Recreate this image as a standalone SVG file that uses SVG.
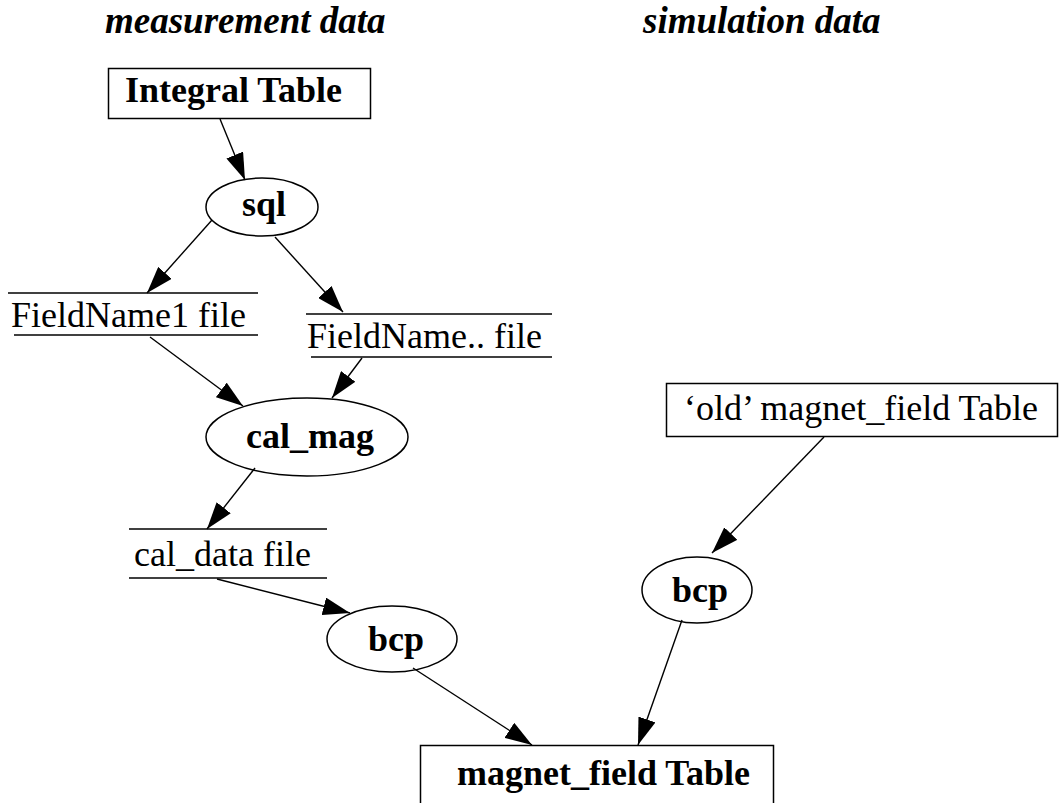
<svg xmlns="http://www.w3.org/2000/svg" width="1059" height="803" viewBox="0 0 1059 803">
  <style>
    .bg { fill: #ffffff; }
    .shape { fill: none; stroke: #000000; stroke-width: 1.5; }
    .edge { fill: none; stroke: #000000; stroke-width: 1.4; }
    .lbl { font-family: "Liberation Serif", "Times New Roman", serif; font-size: 36px; fill: #000000; }
    .bold { font-weight: bold; }
    .title { font-family: "Liberation Serif", "Times New Roman", serif; font-size: 37px; font-weight: bold; font-style: italic; fill: #000000; }
  </style>
  <defs>
    <marker id="arrow" markerUnits="userSpaceOnUse" markerWidth="27" markerHeight="18" refX="27" refY="9" orient="auto">
      <path d="M0,0 L27,9 L0,18 Z" fill="#000000"/>
    </marker>
  </defs>

  <rect class="bg" x="0" y="0" width="1059" height="803"/>

  <!-- column headings -->
  <g id="headings">
    <text class="title" x="105" y="33">measurement data</text>
    <text class="title" x="643" y="33">simulation data</text>
  </g>

  <!-- connectors -->
  <g id="edges">
    <line class="edge" x1="220" y1="119" x2="245" y2="180" marker-end="url(#arrow)"/>
    <line class="edge" x1="212" y1="220" x2="147" y2="293" marker-end="url(#arrow)"/>
    <line class="edge" x1="275" y1="237" x2="343" y2="312" marker-end="url(#arrow)"/>
    <line class="edge" x1="150" y1="337" x2="243" y2="406" marker-end="url(#arrow)"/>
    <line class="edge" x1="362" y1="358" x2="332" y2="398" marker-end="url(#arrow)"/>
    <line class="edge" x1="255" y1="468" x2="207" y2="529" marker-end="url(#arrow)"/>
    <line class="edge" x1="217" y1="579" x2="350" y2="613" marker-end="url(#arrow)"/>
    <line class="edge" x1="413" y1="668" x2="532" y2="745" marker-end="url(#arrow)"/>
    <line class="edge" x1="824" y1="437" x2="712" y2="553" marker-end="url(#arrow)"/>
    <line class="edge" x1="682" y1="620" x2="638" y2="745" marker-end="url(#arrow)"/>
  </g>

  <!-- nodes -->
  <g id="integral_table">
    <rect class="shape" x="108.5" y="68.5" width="262" height="50"/>
    <text class="lbl bold" x="125" y="102">Integral Table</text>
  </g>

  <g id="sql">
    <ellipse class="shape" cx="262" cy="207" rx="56" ry="29"/>
    <text class="lbl bold" x="264" y="216" text-anchor="middle">sql</text>
  </g>

  <g id="fieldname1_file">
    <line class="shape" x1="8" y1="293" x2="258" y2="293"/>
    <line class="shape" x1="14" y1="335" x2="258" y2="335"/>
    <text class="lbl" x="11" y="327">FieldName1 file</text>
  </g>

  <g id="fieldnameN_file">
    <line class="shape" x1="306" y1="314" x2="552" y2="314"/>
    <line class="shape" x1="311" y1="357" x2="552" y2="357"/>
    <text class="lbl" x="307" y="348">FieldName.. file</text>
  </g>

  <g id="cal_mag">
    <ellipse class="shape" cx="307" cy="437" rx="101" ry="39"/>
    <text class="lbl bold" x="246" y="448">cal_mag</text>
  </g>

  <g id="cal_data_file">
    <line class="shape" x1="129" y1="529" x2="327" y2="529"/>
    <line class="shape" x1="129" y1="578" x2="327" y2="578"/>
    <text class="lbl" x="134" y="566">cal_data file</text>
  </g>

  <g id="bcp_measurement">
    <ellipse class="shape" cx="392" cy="639" rx="65" ry="33"/>
    <text class="lbl bold" x="396" y="651" text-anchor="middle">bcp</text>
  </g>

  <g id="old_magnet_field_table">
    <rect class="shape" x="666.5" y="383.5" width="391" height="53"/>
    <text class="lbl" x="684" y="420">‘old’  magnet_field Table</text>
  </g>

  <g id="bcp_simulation">
    <ellipse class="shape" cx="697" cy="590" rx="55" ry="33"/>
    <text class="lbl bold" x="700" y="602" text-anchor="middle">bcp</text>
  </g>

  <g id="magnet_field_table">
    <rect class="shape" x="420.5" y="745.5" width="353" height="70"/>
    <text class="lbl bold" x="457" y="785">magnet_field Table</text>
  </g>
</svg>
